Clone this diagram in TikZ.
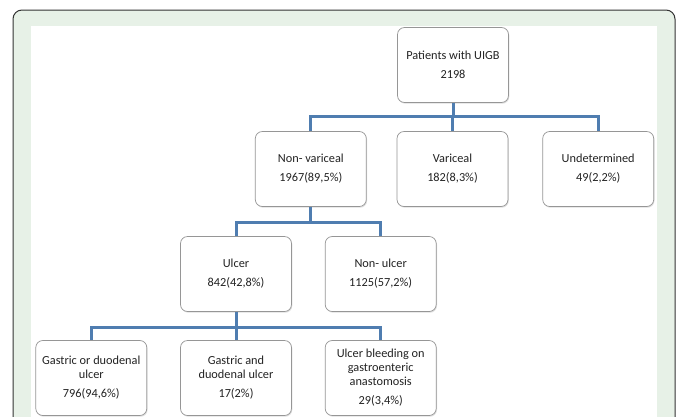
\documentclass[tikz,border=0pt]{standalone}
\usepackage{fontspec}
\setmainfont{Carlito}
\usetikzlibrary{positioning, shadows}
\definecolor{linkblue}{RGB}{79,125,176}
\definecolor{framegreen}{RGB}{231,241,231}
\definecolor{boxgray}{RGB}{150,150,150}
\definecolor{textgray}{RGB}{35,35,35}

\begin{document}
\begin{tikzpicture}[x=1pt, y=-1pt,
	box/.style={rectangle, draw=boxgray, line width=0.7pt, fill=white, rounded corners=7pt,
		minimum width=111pt, minimum height=75pt, align=center, text=textgray,
		font=\fontsize{12.3}{14}\selectfont,
		drop shadow={opacity=0.25, shadow xshift=0.8pt, shadow yshift=-1.2pt}},
	link/.style={draw=linkblue, line width=3pt}]
	\useasboundingbox (0,0) rectangle (677,416);
	\clip (0,0) rectangle (677,416);
	\draw[fill=framegreen, draw=black!80, line width=1pt, rounded corners=9pt] (13,10) rectangle (675,440);
	\fill[white] (31,26) rectangle (657,440);

	\node[box] (patients) at (453,65) {Patients with UIGB \\[5pt] 2198};
	\node[box] (varic) at (452.5,169) {Variceal \\[5pt] 182(8,3\%)};
	\node[box, left=30pt of varic] (nonvar) {Non- variceal \\[5pt] 1967(89,5\%)};
	\node[box, right=34pt of varic] (undet) {Undetermined \\[5pt] 49(2,2\%)};

	\node[box] (ulcer) at (236,274) {Ulcer \\[5pt] 842(42,8\%)};
	\node[box, right=33pt of ulcer] (nonulcer) {Non- ulcer \\[5pt] 1125(57,2\%)};

	\node[box] (gastand) at (236,378) {Gastric and \\ duodenal ulcer \\[5pt] 17(2\%)};
	\node[box, left=33pt of gastand] (gastor) {Gastric or duodenal \\ ulcer \\[5pt] 796(94,6\%)};
	\node[box, right=33pt of gastand] (bleed) {Ulcer bleeding on \\ gastroenteric \\ anastomosis \\[5pt] 29(3,4\%)};

	\draw[link] (patients.south) -- ++(0,14) coordinate (bus1) -| (nonvar.north);
	\draw[link] (bus1) -| (varic.north);
	\draw[link] (bus1) -| (undet.north);

	\draw[link] (nonvar.south) -- ++(0,16) coordinate (bus2) -| (ulcer.north);
	\draw[link] (bus2) -| (nonulcer.north);

	\draw[link] (ulcer.south) -- ++(0,16) coordinate (bus3) -| (gastor.north);
	\draw[link] (bus3) -| (gastand.north);
	\draw[link] (bus3) -| (bleed.north);
\end{tikzpicture}
\end{document}
